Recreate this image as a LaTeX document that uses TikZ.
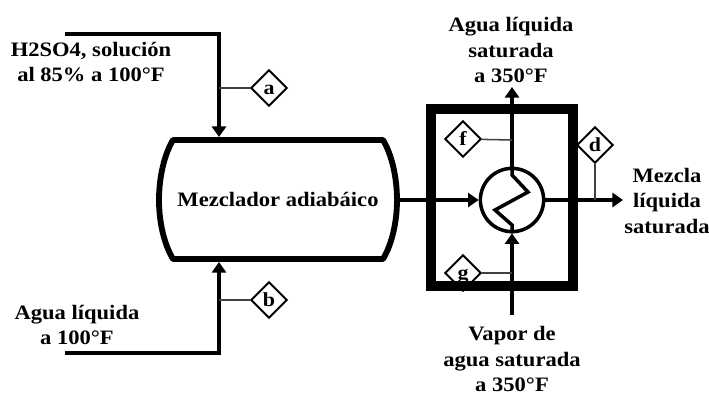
\documentclass[tikz,border=0pt]{standalone}
\usepackage{fontspec}
\setmainfont[FakeStretch=1.1]{Liberation Serif}
\usetikzlibrary{shapes.geometric,arrows.meta}

\tikzset{
	texto/.style={font=\fontsize{17.5pt}{21pt}\selectfont\bfseries, align=center, inner sep=0pt},
	corriente/.style={line width=3pt, line join=miter},
	flecha/.style={corriente, -{Triangle[length=9pt,width=12pt]}},
	etiqueta/.style={draw, diamond, aspect=1, line width=1.6pt, minimum size=31pt, inner sep=0pt, fill=white,
		text height=11pt, text depth=0pt,
		font=\fontsize{17pt}{18pt}\selectfont\bfseries},
	enlace/.style={line width=1.3pt, black!75},
}

\begin{document}
\begin{tikzpicture}[x=0.03cm,y=-0.03cm]
			\useasboundingbox (0,0) rectangle (709,395);

			%Mezclador
			\draw[line width=5pt, line join=round]
				(173,140) -- (383,140)
				.. controls (392,155) and (397,178) .. (397,200)
				.. controls (397,222) and (392,244) .. (383,259)
				-- (173,259)
				.. controls (164,244) and (159,222) .. (159,200)
				.. controls (159,178) and (164,155) .. (173,140) -- cycle;
			\node[texto] (Mezclador) at (278,199) {Mezclador adiabáico};

			\coordinate (MezTop) at (219,137);
			\coordinate (MezBot) at (219,262);
			\coordinate (MezOut) at (397,200);

			%Intercambiador
			\node[draw,
			circle,
			line width=3pt,
			minimum size=54pt,
			inner sep=0pt,
			fill=white] (Hx) at (512,200){};

			%Corrientes de entrada
			\coordinate (AcidoIni) at (65,34);
			\coordinate (AcidoEsq) at (219,34);
			\coordinate (AguaIni) at (65,353);
			\coordinate (AguaEsq) at (219,353);
			\draw[flecha] (AcidoIni) -- (AcidoEsq) -- (MezTop);
			\draw[flecha] (AguaIni) -- (AguaEsq) -- (MezBot);

			%Corrientes del intercambiador
			\coordinate (VaporIni) at (512,315);
			\coordinate (LiqFin) at (512,87);
			\coordinate (MezclaFin) at (623,200);
			\draw[flecha] (MezOut) -- (Hx.west);
			\draw[flecha] (VaporIni) -- (Hx.south);
			\draw[flecha] (Hx.north) -- (LiqFin);
			\draw[flecha] (Hx.east) -- (MezclaFin);

			%Serpentin
			\coordinate (ZigA) at (512,175);
			\coordinate (ZigB) at (528,192);
			\coordinate (ZigC) at (495,210);
			\coordinate (ZigD) at (512,225);
			\draw[corriente] (Hx.north) -- (ZigA) -- (ZigB) -- (ZigC) -- (ZigD) -- (Hx.south);

			%Etiquetas
			\node[etiqueta] (a) at (269,88) {a};
			\node[etiqueta] (b) at (269,300) {b};
			\node[etiqueta] (f) at (463,139) {f};
			\node[etiqueta] (g) at (463,273) {g};
			\node[etiqueta] (d) at (595,145) {d};

			\coordinate (aT) at (219,88);
			\coordinate (bT) at (219,300);
			\coordinate (fT) at (512,140);
			\coordinate (gT) at (512,273);
			\coordinate (dT) at (595,200);
			\draw[enlace] (aT) -- (a);
			\draw[enlace] (bT) -- (b);
			\draw[enlace] (fT) -- (f);
			\draw[enlace] (gT) -- (g);
			\draw[enlace] (dT) -- (d);

			%Caja
			\draw[line width=8.5pt] (431,109) rectangle (573,286);

			%Textos
			\node[texto] (AcidoTxt) at (91,62) {H2SO4, solución\\[1pt]al 85\% a 100°F};
			\node[texto] (AguaTxt) at (77,325) {Agua líquida\\[1pt]a 100°F};
			\node[texto] (LiqTxt) at (511,50) {Agua líquida\\[1pt]saturada\\[1pt]a 350°F};
			\node[texto] (VaporTxt) at (512,359) {Vapor de\\[1pt]agua saturada\\[1pt]a 350°F};
			\node[texto] (MezclaTxt) at (667,201) {Mezcla\\[1pt]líquida\\[1pt]saturada};
		\end{tikzpicture}
\end{document}
